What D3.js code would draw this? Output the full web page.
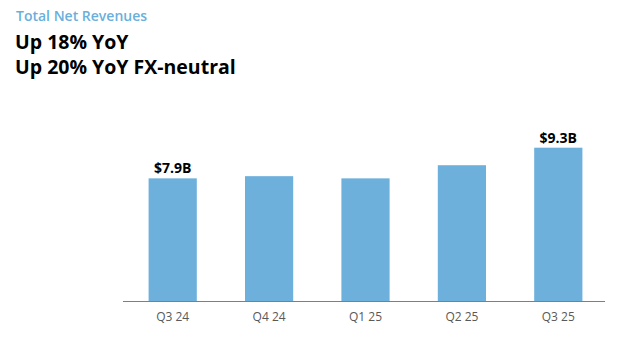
<!DOCTYPE html>
<html><head><meta charset="utf-8">
<script src="https://cdn.jsdelivr.net/npm/d3@7"></script>
<style>
html,body{margin:0;padding:0;background:#fff;}
svg{display:block;}
text{font-family:"Open Sans","Noto Sans",sans-serif;}
</style></head>
<body><svg id="c" width="638" height="361"></svg>
<script>
const categories = ["Q3 24","Q4 24","Q1 25","Q2 25","Q3 25"];
const revenues = [7.9, 8.0, 7.9, 8.5, 9.3];
const valueLabels = ["$7.9B", "", "", "", "$9.3B"];
const title = "Total Net Revenues";
const headlines = ["Up 18% YoY", "Up 20% YoY FX-neutral"];

const svg = d3.select("#c");
const baseY = 301;
const x = d3.scaleBand().domain(categories).range([124.5, 606.5]).paddingInner(0.5).paddingOuter(0.25);
const y = d3.scaleLinear().domain([2.3, 9.3]).range([baseY, 147.7]);

svg.append("text").attr("x", 16).attr("y", 20.5).attr("fill", "#6aafdc")
  .attr("font-size", 14).attr("font-weight", 600).text(title);
headlines.forEach((h, i) => {
  svg.append("text").attr("x", 15).attr("y", 48.5 + i * 25).attr("fill", "#000")
    .attr("font-size", 19.5).attr("font-weight", 700).text(h);
});

svg.append("g").selectAll("rect").data(categories).join("rect")
  .attr("x", d => x(d)).attr("width", x.bandwidth())
  .attr("y", (d, i) => y(revenues[i])).attr("height", (d, i) => baseY - y(revenues[i]))
  .attr("fill", "#6cb0db");

svg.append("g").selectAll("text").data(categories).join("text")
  .attr("x", d => x(d) + x.bandwidth() / 2)
  .attr("y", (d, i) => y(revenues[i]) - 5)
  .attr("text-anchor", "middle").attr("font-size", 14).attr("font-weight", 700)
  .attr("fill", "#000").text((d, i) => valueLabels[i]);

const ax = svg.append("g").attr("transform", `translate(0,${baseY})`)
  .call(d3.axisBottom(x).tickSize(0).tickPadding(11));
ax.select(".domain").attr("stroke", "#7f7f7f").attr("d", "M123,0.5H605");
ax.selectAll("text").attr("fill", "#595959").attr("font-size", 12)
  .attr("font-family", "\"Open Sans\",\"Noto Sans\",sans-serif");
</script></body></html>
